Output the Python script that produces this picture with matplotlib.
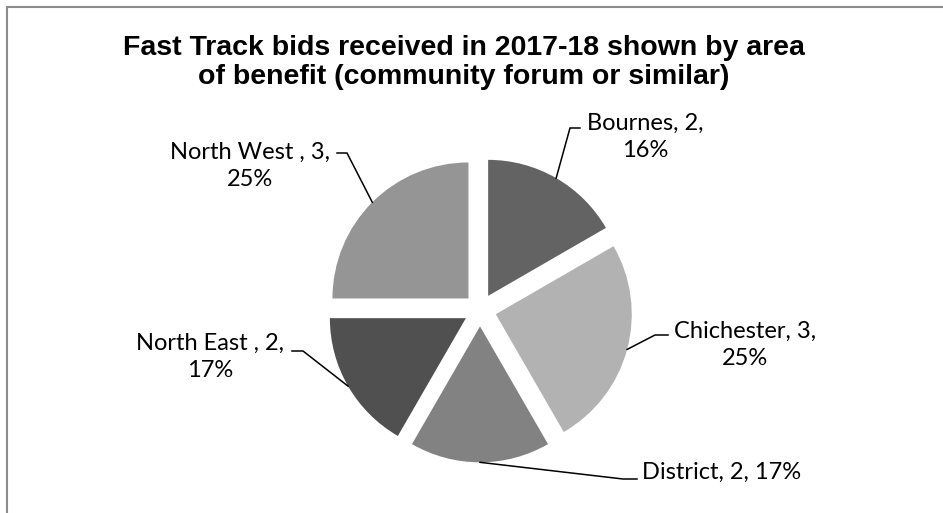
import numpy as np
import matplotlib.pyplot as plt
from matplotlib.lines import Line2D

# data
areas = ["Bournes", "Chichester", "District", "North East ", "North West "]
bids = [2, 3, 2, 2, 3]
pct_labels = ["16%", "25%", "17%", "17%", "25%"]   # as printed (rounded to 100)
colors = ["#636363", "#b2b2b2", "#828282", "#505050", "#959595"]

title = "Fast Track bids received in 2017-18 shown by area\nof benefit (community forum or similar)"

W, H = 943, 513
CX, CY = 480, 310      # pie centre, pixels from top-left
R = 136                # pie radius in pixels
EXPLODE = 0.12

# label layout (pixels): text centre, leader elbow, leader end
label_pos = [(645, 137), (745, 345), (722, 472), (210, 357), (250, 166)]
elbows = [(570, 128), (655, 335), (623, 479), (303, 351), (347, 153)]
ends = [(580, 128), (668, 335), (637, 479), (292, 351), (337, 153)]
two_line = [True, True, False, True, True]


def px(x, y):
    # pixel -> data coords (1 data unit = R pixels)
    return (x - CX) / R, (CY - y) / R


fig = plt.figure(figsize=(W / 100, H / 100), dpi=100)
ax = fig.add_axes([0, 0, 1, 1])

wedges, _ = ax.pie(bids, colors=colors, startangle=90, counterclock=False,
                   explode=[EXPLODE] * len(bids), radius=1.0,
                   wedgeprops=dict(linewidth=0))
ax.set_xlim(-CX / R, (W - CX) / R)
ax.set_ylim(-(H - CY) / R, CY / R)
ax.set_aspect("equal")
ax.axis("off")

for i, w in enumerate(wedges):
    mid = np.deg2rad((w.theta1 + w.theta2) / 2)
    ex, ey = (1 + EXPLODE) * np.cos(mid), (1 + EXPLODE) * np.sin(mid)
    bx, by = px(*elbows[i])
    fx, fy = px(*ends[i])
    ax.plot([ex, bx, fx], [ey, by, fy], color="black", lw=1.1,
            solid_joinstyle="miter")
    sep = "\n" if two_line[i] else " "
    txt = f"{areas[i]}, {bids[i]},{sep}{pct_labels[i]}"
    tx, ty = px(*label_pos[i])
    ax.text(tx, ty, txt, ha="center", va="center", multialignment="center",
            fontsize=17, family="Lato", color="black", linespacing=1.4)

fig.text(464 / W, 1 - 63 / H, title, ha="center", va="center",
         fontsize=20.5, fontweight="bold", family="Liberation Sans",
         linespacing=1.15)

# chart border (only top and left visible in the crop)
fig.add_artist(Line2D([7 / W, 1], [1 - 7 / H] * 2, color="#8c8c8c", lw=1.5,
                      transform=fig.transFigure))
fig.add_artist(Line2D([7 / W] * 2, [0, 1 - 7 / H], color="#8c8c8c", lw=1.5,
                      transform=fig.transFigure))

fig.savefig("out.png", dpi=100)
